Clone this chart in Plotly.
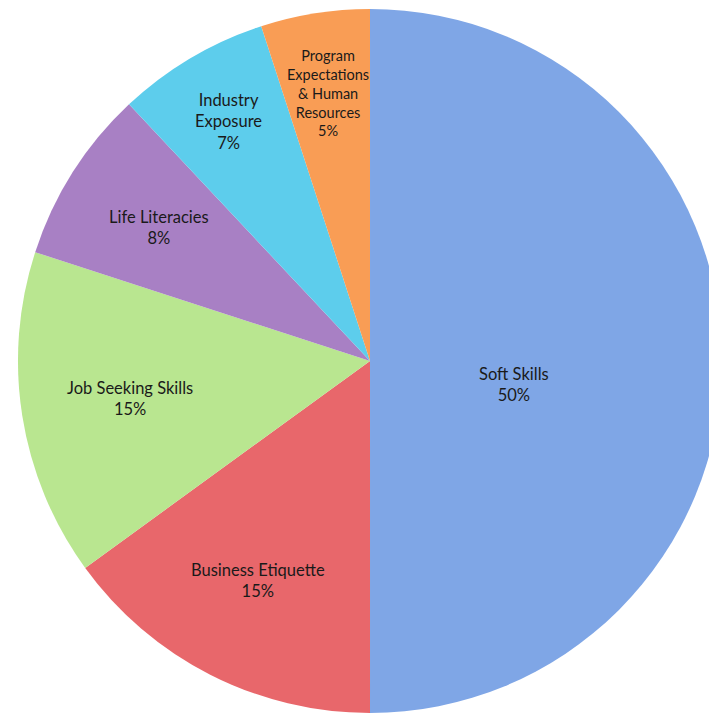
import math
import plotly.graph_objects as go

categories = ["Soft Skills", "Business Etiquette", "Job Seeking Skills",
              "Life Literacies", "Industry Exposure",
              "Program Expectations & Human Resources"]
values = [50, 15, 15, 8, 7, 5]
label_text = ["Soft Skills", "Business Etiquette", "Job Seeking Skills",
              "Life Literacies", "Industry<br>Exposure",
              "Program<br>Expectations<br>& Human<br>Resources"]

colors = ["#7FA6E6", "#E8676B", "#B9E690", "#A880C4", "#5DCDEC", "#F99D55"]
label_r = [0.415, 0.70, 0.69, 0.71, 0.79, 0.77]
label_dang = [9.4, 0, 0, 0, 0, 0]
label_size = [16.5, 16.5, 16.5, 16.5, 16.5, 14.5]

W = H = 717
dom_x = [0.0139, 0.9959]
dom_y = [0.0167, 0.9987]

fig = go.Figure(go.Pie(
    labels=categories, values=values, sort=False, direction="clockwise",
    rotation=0, textinfo="none", hoverinfo="label+percent",
    marker=dict(colors=colors, line=dict(width=0)),
    domain=dict(x=dom_x, y=dom_y), showlegend=False,
))

R = min((dom_x[1] - dom_x[0]) * W, (dom_y[1] - dom_y[0]) * H) / 2
cx = (dom_x[0] + dom_x[1]) / 2
cy = (dom_y[0] + dom_y[1]) / 2
total = sum(values)
cum = 0
for i, v in enumerate(values):
    mid = (cum + v / 2) / total * 360 + label_dang[i]
    cum += v
    th = math.radians(mid)
    x = cx + label_r[i] * R * math.sin(th) / W
    y = cy + label_r[i] * R * math.cos(th) / H
    pct = round(v / total * 100)
    fig.add_annotation(
        x=x, y=y, xref="paper", yref="paper", showarrow=False,
        text=f"{label_text[i]}<br>{pct}%", align="center",
        font=dict(family="Lato", size=label_size[i], color="#1a1a1a"),
        xanchor="center", yanchor="middle",
    )

fig.update_layout(width=W, height=H, margin=dict(l=0, r=0, t=0, b=0),
                  paper_bgcolor="white", plot_bgcolor="white")
fig.write_html("out.html")
